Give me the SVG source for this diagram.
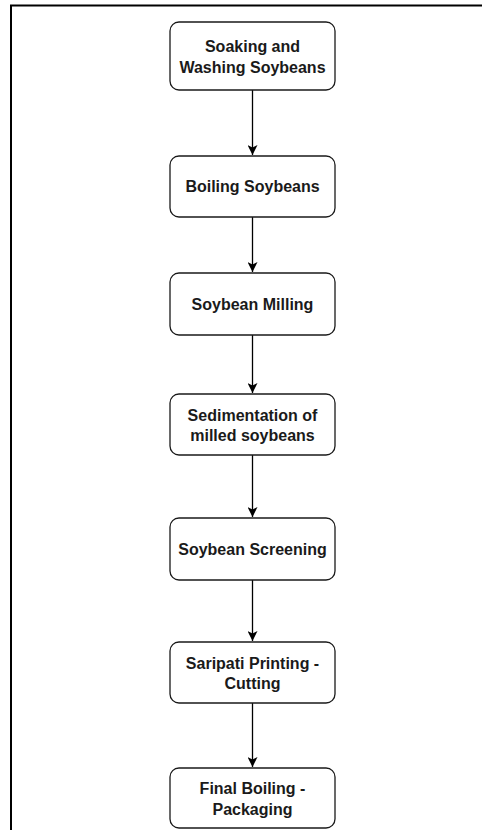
<svg xmlns="http://www.w3.org/2000/svg" width="482" height="830" viewBox="0 0 482 830">
<defs>
<style>
.box{fill:#ffffff;stroke:#1a1a1a;stroke-width:1.3}
.lbl{font-family:"Liberation Sans",Arial,sans-serif;font-size:16px;font-weight:bold;fill:#1a1a1a;text-anchor:middle}
.edge{stroke:#000000;stroke-width:1.3;fill:none}
.frame{stroke:#000000;fill:none}
</style>
<marker id="arrow" viewBox="0 0 10 10" refX="10" refY="5" markerWidth="10" markerHeight="10" markerUnits="userSpaceOnUse" orient="auto">
<path d="M0,0 L10,5 L0,10 L2.5,5 Z" fill="#000000"/>
</marker>
</defs>
<rect width="482" height="830" fill="#ffffff"/>
<g id="frame">
<line class="frame" x1="10" y1="5.5" x2="482" y2="5.5" stroke-width="1.8"/>
<line class="frame" x1="11" y1="5" x2="11" y2="830" stroke-width="2"/>
</g>
<g id="connectors">
<line class="edge" x1="252.5" y1="90" x2="252.5" y2="155" marker-end="url(#arrow)"/>
<line class="edge" x1="252.5" y1="217" x2="252.5" y2="272" marker-end="url(#arrow)"/>
<line class="edge" x1="252.5" y1="335" x2="252.5" y2="393" marker-end="url(#arrow)"/>
<line class="edge" x1="252.5" y1="455" x2="252.5" y2="517" marker-end="url(#arrow)"/>
<line class="edge" x1="252.5" y1="580" x2="252.5" y2="641" marker-end="url(#arrow)"/>
<line class="edge" x1="252.5" y1="703" x2="252.5" y2="767" marker-end="url(#arrow)"/>
</g>
<g id="node1">
<rect class="box" x="170" y="22" width="165" height="68" rx="9"/>
<text class="lbl" x="252.5" y="51.7">Soaking and</text>
<text class="lbl" x="252.5" y="72.7">Washing Soybeans</text>
</g>
<g id="node2">
<rect class="box" x="170" y="156" width="165" height="61" rx="9"/>
<text class="lbl" x="252.5" y="192">Boiling Soybeans</text>
</g>
<g id="node3">
<rect class="box" x="170" y="273" width="165" height="62" rx="9"/>
<text class="lbl" x="252.5" y="309.5">Soybean Milling</text>
</g>
<g id="node4">
<rect class="box" x="170" y="394" width="165" height="61" rx="9"/>
<text class="lbl" x="252.5" y="420.7">Sedimentation of</text>
<text class="lbl" x="252.5" y="441.2">milled soybeans</text>
</g>
<g id="node5">
<rect class="box" x="170" y="518" width="165" height="62" rx="9"/>
<text class="lbl" x="252.5" y="554.5">Soybean Screening</text>
</g>
<g id="node6">
<rect class="box" x="170" y="642" width="165" height="61" rx="9"/>
<text class="lbl" x="252.5" y="668.5">Saripati Printing -</text>
<text class="lbl" x="252.5" y="689">Cutting</text>
</g>
<g id="node7">
<rect class="box" x="170" y="768" width="165" height="60" rx="9"/>
<text class="lbl" x="252.5" y="794">Final Boiling -</text>
<text class="lbl" x="252.5" y="814.5">Packaging</text>
</g>
</svg>
